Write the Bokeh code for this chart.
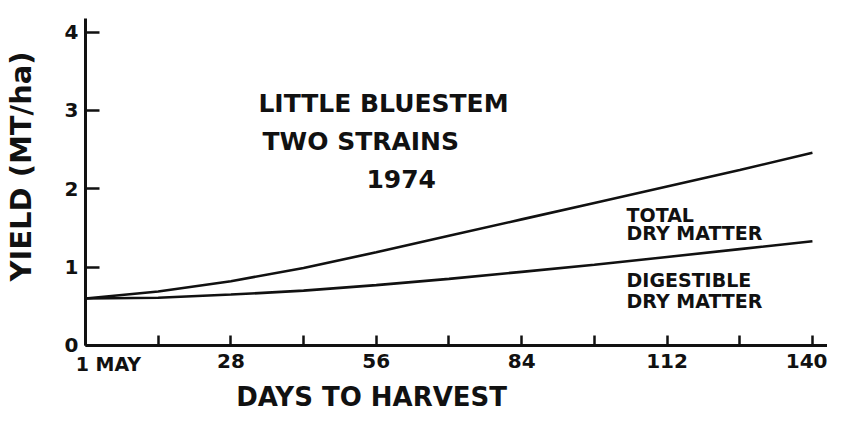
import math
from bokeh.plotting import figure
from bokeh.models import FixedTicker, Label, Range1d, LinearAxis
from bokeh.embed import file_html
from bokeh.resources import INLINE

# ---- data ----
days = [0, 14, 28, 42, 56, 70, 84, 98, 112, 126, 140]
total_dry_matter = [0.60, 0.69, 0.82, 0.99, 1.19, 1.40, 1.61, 1.82, 2.03, 2.24, 2.46]
digestible_dry_matter = [0.60, 0.61, 0.65, 0.70, 0.77, 0.85, 0.94, 1.03, 1.13, 1.23, 1.33]

x_ticks = [0, 14, 28, 42, 56, 70, 84, 98, 112, 126, 140]
x_tick_labels = ["", "", "28", "", "56", "", "84", "", "112", "", "140"]
y_ticks = [0, 1, 2, 3, 4]
y_tick_labels = ["0", "1", "2", "3", "4"]

FONT = "DejaVu Sans"
INK = "#111111"

p = figure(width=827, height=414, output_backend="svg", toolbar_location=None,
           x_range=Range1d(-16.37, 142.9), y_range=Range1d(-0.881, 4.404),
           x_axis_type=None, y_axis_type=None,
           min_border_left=0, min_border_right=0, min_border_top=0, min_border_bottom=0)
p.background_fill_color = "white"
p.border_fill_color = "white"
p.outline_line_color = None
p.grid.visible = False

# x axis, drawn at y = 0
xa = LinearAxis(fixed_location=0, bounds=(0, 142.9))
xa.ticker = FixedTicker(ticks=x_ticks)
xa.major_label_overrides = {t: l for t, l in zip(x_ticks, x_tick_labels)}
xa.major_tick_in = 10
xa.major_tick_out = 0
xa.minor_tick_line_color = None
xa.axis_line_width = 3
xa.major_tick_line_width = 2.5
xa.axis_line_color = INK
xa.major_tick_line_color = INK
xa.major_label_text_font = FONT
xa.major_label_text_font_style = "bold"
xa.major_label_text_font_size = "20px"
xa.major_label_text_color = INK
xa.major_label_standoff = 9
p.add_layout(xa, "below")

# y axis, drawn at x = 0
ya = LinearAxis(fixed_location=0, bounds=(0, 4.17))
ya.ticker = FixedTicker(ticks=y_ticks)
ya.major_label_overrides = {t: l for t, l in zip(y_ticks, y_tick_labels)}
ya.major_tick_in = 14
ya.major_tick_out = 0
ya.minor_tick_line_color = None
ya.axis_line_width = 3
ya.major_tick_line_width = 2.5
ya.axis_line_color = INK
ya.major_tick_line_color = INK
ya.major_label_text_font = FONT
ya.major_label_text_font_style = "bold"
ya.major_label_text_font_size = "20px"
ya.major_label_text_color = INK
ya.major_label_standoff = 7
p.add_layout(ya, "left")

# curves
p.line(days, total_dry_matter, line_width=2.6, line_color=INK)
p.line(days, digestible_dry_matter, line_width=2.6, line_color=INK)

def lab(text, x, y, size, align="left", angle=0.0, style="bold"):
    p.add_layout(Label(x=x, y=y, text=text, text_font=FONT, text_font_size=size,
                       text_font_style=style, text_color=INK, text_align=align,
                       text_baseline="middle", angle=angle))

lab("1 MAY", -1.9, -0.23, "19px", align="left")
lab("DAYS TO HARVEST", 55.1, -0.655, "26px", align="center")
lab("YIELD (MT/ha)", -12.5, 2.285, "29px", align="center", angle=math.pi / 2)

lab("LITTLE BLUESTEM", 33.3, 3.09, "25px")
lab("TWO STRAINS", 34.1, 2.61, "25px")
lab("1974", 54.1, 2.13, "25px")

lab("TOTAL", 104.2, 1.67, "19px")
lab("DRY MATTER", 104.2, 1.43, "19px")
lab("DIGESTIBLE", 104.2, 0.83, "19px")
lab("DRY MATTER", 104.2, 0.57, "19px")

open("out.html", "w").write(file_html(p, INLINE))
